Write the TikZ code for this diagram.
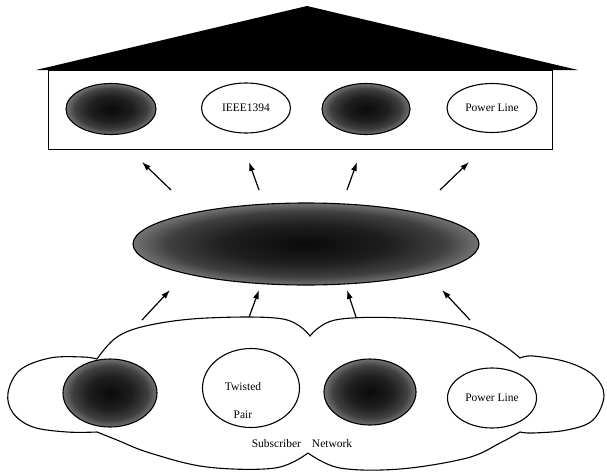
\documentclass[tikz,border=0pt]{standalone}
\usepackage{fontspec}
\setmainfont{Liberation Serif}
\usetikzlibrary{arrows.meta, shapes.geometric}
\pgfdeclareradialshading{darkdisc}{\pgfpoint{0bp}{0bp}}{%
  color(0bp)=(black!96); color(12bp)=(black!88); color(20bp)=(black!75);
  color(25bp)=(black!55); color(50bp)=(black!55)}

\begin{document}
\begin{tikzpicture}[
    x=1pt, y=-1pt,
    >={Latex[length=9pt, width=6pt]},
    every node/.style={font=\fontsize{11.5}{13}\selectfont},
    media/.style={ellipse, draw, line width=1.1pt, inner sep=0pt},
    plainmedia/.style={media, fill=white},
    darkmedia/.style={media, shade, shading=darkdisc},
    flow/.style={->, line width=1.2pt},
  ]

  \useasboundingbox (0,0) rectangle (607,471);

  % === House (home network) ===
  \fill (36,70) -- (307,6) -- (578,70) -- cycle;
  \draw[line width=0.9pt] (48,70) rectangle (552,149);

  \node[darkmedia, minimum width=90pt, minimum height=51pt] (home1) at (111,109) {};
  \node[plainmedia, minimum width=89pt, minimum height=50pt] (home2) at (246,108) {IEEE1394};
  \node[darkmedia, minimum width=88pt, minimum height=51pt] (home3) at (366,109) {};
  \node[plainmedia, minimum width=90pt, minimum height=49pt] (home4) at (492,108) {Power Line};

  % === Access hub in the middle ===
  \node[darkmedia, minimum width=346pt, minimum height=82pt] (hub) at (306,244) {};

  % upward arrows, hub -> house
  \foreach \i/\sx/\sy/\ex/\ey in {1/171/190/142/162, 2/259/190/249/162,
                                  3/347/190/357/162, 4/440/190/469/162} {
    \coordinate (hubout\i) at (\sx,\sy);
    \coordinate (homein\i) at (\ex,\ey);
    \draw[flow] (hubout\i) -- (homein\i);
  }

  % upward arrows, subscriber network -> hub
  \foreach \i/\sx/\sy/\ex/\ey in {1/142/320/170/290, 2/248/320/259/290,
                                  3/357/320/347/290, 4/470/320/442/290} {
    \coordinate (subout\i) at (\sx,\sy);
    \coordinate (hubin\i) at (\ex,\ey);
    \draw[flow] (subout\i) -- (hubin\i);
  }

  % === Subscriber network cloud ===
  \draw[line width=1.1pt, fill=white]
    plot[smooth, tension=0.6] coordinates {(97,359) (117,337) (150,325) (207,318) (283,319) (310,336)}
    -- plot[smooth, tension=0.6] coordinates {(310,336) (335,320) (400,318) (467,327) (500,343) (520,358)}
    -- plot[smooth, tension=0.6] coordinates {(520,358) (533,356) (567,362) (593,375) (604,395) (593,420) (567,430) (533,433) (520,432)}
    -- plot[smooth, tension=0.6] coordinates {(520,432) (500,443) (467,458) (400,469) (340,468) (308,453)}
    -- plot[smooth, tension=0.6] coordinates {(308,453) (275,468) (207,467) (150,453) (117,440) (97,432)}
    -- plot[smooth, tension=0.6] coordinates {(97,432) (67,432) (33,427) (13,413) (8,393) (20,370) (50,358) (83,357) (97,359)}
    -- cycle;

  \node[darkmedia, minimum width=94pt, minimum height=68pt] (sub1) at (110,393) {};
  \node[plainmedia, minimum width=97pt, minimum height=79pt] (sub2) at (251,388) {};
  \node[align=center] (sub2text) at (243,401) {Twisted\\[15pt]Pair};
  \node[darkmedia, minimum width=92pt, minimum height=66pt] (sub3) at (370,392) {};
  \node[plainmedia, minimum width=89pt, minimum height=60pt] (sub4) at (492,398) {Power Line};

  \node[anchor=base] (subname) at (302,447) {Subscriber\hspace{11pt}Network};

\end{tikzpicture}
\end{document}
